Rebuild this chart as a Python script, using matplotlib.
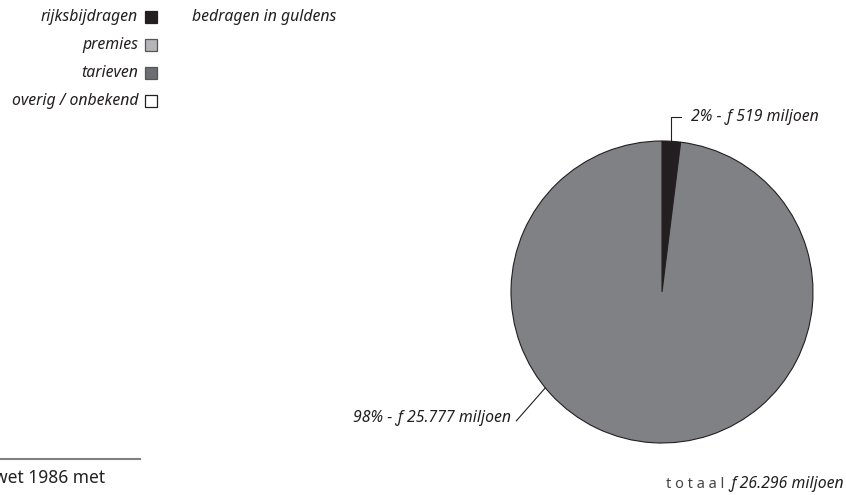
import matplotlib
matplotlib.use('Agg')
import matplotlib.pyplot as plt
from matplotlib.patches import Rectangle
import numpy as np

# data
slice_labels = ['rijksbijdragen', 'tarieven']
slice_values = [519, 25777]           # miljoen gulden
slice_colors = ['#231f20', '#808184']
legend_labels = ['rijksbijdragen', 'premies', 'tarieven', 'overig / onbekend']
legend_colors = ['#231f20', '#b4b5b8', '#6d6e71', '#ffffff']
total = 26296

plt.rcParams['font.family'] = ['Noto Sans', 'DejaVu Sans']
txt = '#231f20'
fs = 11.4

fig = plt.figure(figsize=(8.46, 4.95), dpi=100)
ax = fig.add_axes([0, 0, 1, 1])

# pie (y axis points down, so counterclock in data = clockwise on screen)
cx, cy, r = 662, 292, 151
wedges, _ = ax.pie(slice_values, colors=slice_colors, center=(cx, cy), radius=r,
                   startangle=-90, counterclock=True,
                   wedgeprops=dict(edgecolor='#231f20', linewidth=0.8))
ax.set_xlim(0, 846)
ax.set_ylim(495, 0)
ax.set_aspect('equal')
ax.axis('off')

pct = [round(100 * v / total) for v in slice_values]

# small slice label
w = wedges[0]
mid = np.deg2rad((w.theta1 + w.theta2) / 2)
x0 = cx + r * np.cos(mid)
y0 = cy + r * np.sin(mid)
ax.plot([x0, x0, x0 + 10], [y0, 117, 117], color=txt, lw=0.8)
ax.text(x0 + 20, 117, f'{pct[0]}% - ƒ {slice_values[0]} miljoen', style='italic',
        fontsize=fs, color=txt, va='center', ha='left')

# large slice label
a = np.deg2rad(140.6)
x1 = cx + r * np.cos(a)
y1 = cy + r * np.sin(a)
ax.plot([x1, x1 - 29], [y1, y1 + 33], color=txt, lw=0.8)
lab = f'{slice_values[1]:,}'.replace(',', '.')
ax.text(x1 - 34, y1 + 30, f'{pct[1]}% - ƒ {lab} miljoen', style='italic',
        fontsize=fs, color=txt, va='center', ha='right')

# legend
for i, (lbl, col) in enumerate(zip(legend_labels, legend_colors)):
    y = 17 + 28 * i
    ax.add_patch(Rectangle((145, y - 6), 12, 12, facecolor=col,
                           edgecolor='#231f20' if i in (0, 3) else '#555555', lw=0.9))
    ax.text(138, y, lbl, style='italic', fontsize=fs, color=txt, ha='right', va='center')
ax.text(192, 17, 'bedragen in guldens', style='italic', fontsize=fs, color=txt,
        ha='left', va='center')

# total
tot = f'{total:,}'.replace(',', '.')
t = ax.text(844, 484, f'ƒ {tot} miljoen', style='italic', fontsize=fs, color=txt,
            ha='right', va='center')
ax.annotate('t o t a a l', xy=(0, 0.5), xycoords=t, xytext=(-5, 0),
            textcoords='offset pixels', fontsize=10.5, color='#444444',
            ha='right', va='center')

# cut-off footnote at bottom left
ax.plot([0, 140], [459, 459], color='#808080', lw=1.5)
ax.text(-6, 478, 'wet 1986 met', fontsize=12.5, color='#222222', ha='left', va='center')

fig.savefig('out.png', dpi=100)
